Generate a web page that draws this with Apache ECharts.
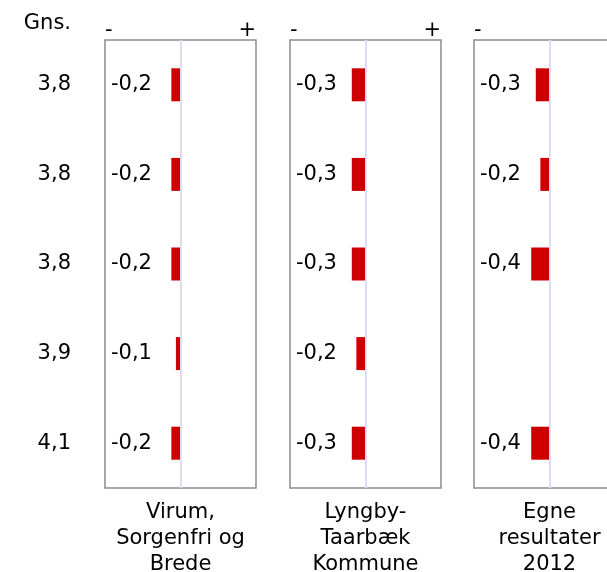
<!DOCTYPE html>
<html>
<head>
<meta charset="utf-8">
<script src="https://cdn.jsdelivr.net/npm/echarts@6/dist/echarts.min.js"></script>
<style>
html,body{margin:0;padding:0;background:#fff;}
#chart{width:607px;height:572px;}
</style>
</head>
<body>
<div id="chart"></div>
<script>
// ---- data ----
const rows = ['1', '2', '3', '4', '5'];
const averages = ['3,8', '3,8', '3,8', '3,9', '4,1'];
const panelNames = ['Virum,\nSorgenfri og\nBrede', 'Lyngby-\nTaarbæk\nKommune', 'Egne\nresultater\n2012'];
const virum = [-0.2, -0.2, -0.2, -0.1, -0.2];
const lyngby = [-0.3, -0.3, -0.3, -0.2, -0.3];
const egne = [-0.3, -0.2, -0.4, null, -0.4];
const seriesValues = [virum, lyngby, egne];
const axisMin = -1.65, axisMax = 1.65;

// ---- layout ----
const FONT = 'DejaVu Sans';
const FS = 21;
const TXT = '#000';
const panelLefts = [105, 290, 474];
const panelWidth = 151;
const panelTop = 40;
const panelHeight = 448;

const fmt = v => v.toFixed(1).replace('.', ',');

const grids = [], xAxes = [], yAxes = [], series = [], graphics = [];
panelLefts.forEach((left, i) => {
  grids.push({left: left, top: panelTop, width: panelWidth, height: panelHeight,
    outerBoundsMode: 'none', containLabel: false,
    show: true, borderColor: '#8c8c8c', borderWidth: 1.5, backgroundColor: 'transparent'});
  xAxes.push({type: 'value', gridIndex: i, min: axisMin, max: axisMax, interval: axisMax,
    position: 'top',
    axisLine: {show: false}, axisTick: {show: false}, splitLine: {show: false},
    axisLabel: {show: true, margin: -1, fontFamily: FONT, fontSize: FS, color: TXT,
      alignMinLabel: 'left', alignMaxLabel: 'right',
      formatter: v => v < 0 ? '-' : (v > 0 ? '+' : '')}});
  yAxes.push({type: 'category', gridIndex: i, data: i === 0 ? averages : rows, inverse: true,
    axisLine: {show: false}, axisTick: {show: false}, splitLine: {show: false},
    axisLabel: {show: i === 0, margin: 34, fontFamily: FONT, fontSize: FS, color: TXT}});
  const vals = seriesValues[i];
  series.push({type: 'bar', xAxisIndex: i, yAxisIndex: i, data: vals,
    barWidth: 33, itemStyle: {color: '#cc0000'}, silent: true,
    markLine: {silent: true, symbol: 'none', label: {show: false},
      lineStyle: {color: '#dcdcf2', width: 2, type: 'solid'},
      data: [{xAxis: 0}]}});
  series.push({type: 'scatter', xAxisIndex: i, yAxisIndex: i, symbolSize: 0, silent: true,
    itemStyle: {opacity: 1},
    data: vals.map((v, j) => v == null ? null : [axisMin, j, v]),
    label: {show: true, position: 'right', distance: 6, fontFamily: FONT, fontSize: FS, color: TXT,
      formatter: p => fmt(p.value[2])}});
  graphics.push({type: 'text', x: left + panelWidth / 2, y: 500,
    style: {text: panelNames[i], textAlign: 'center', font: FS + 'px "' + FONT + '"',
      lineHeight: 26, fill: TXT}});
});
graphics.push({type: 'text', x: 71, y: 13,
  style: {text: 'Gns.', textAlign: 'right', font: FS + 'px "' + FONT + '"', fill: TXT}});

const chart = echarts.init(document.getElementById('chart'));
chart.setOption({
  animation: false,
  backgroundColor: '#fff',
  grid: grids, xAxis: xAxes, yAxis: yAxes, series: series, graphic: graphics
});
</script>
</body>
</html>
